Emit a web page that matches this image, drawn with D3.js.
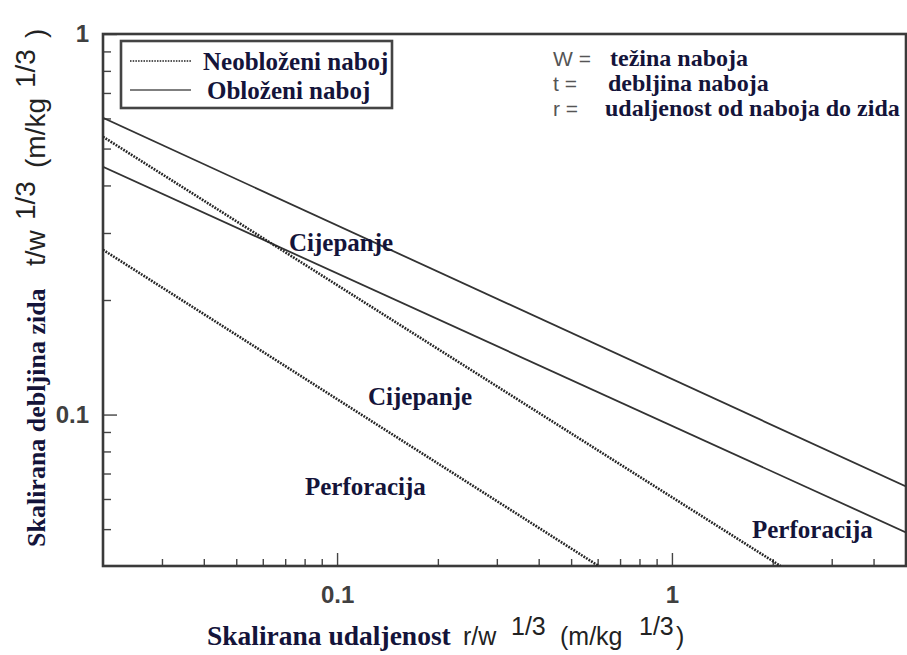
<!DOCTYPE html>
<html>
<head>
<meta charset="utf-8">
<script src="https://cdn.jsdelivr.net/npm/d3@7"></script>
<style>
  html, body { margin: 0; padding: 0; background: #fff; }
  svg { display: block; }
  .serif { font-family: "Liberation Serif", "Times New Roman", serif; font-weight: bold; fill: #14143a; }
  .sans { font-family: "Liberation Sans", Arial, sans-serif; }
</style>
</head>
<body>
<svg id="chart" width="907" height="655"></svg>
<script>
// ---------------- DATA ----------------
// Solid lines: obloženi naboj
const oblozeniCijepanjeX = [0.02, 5];
const oblozeniCijepanjeY = [0.602, 0.0647];
const oblozeniPerforacijaX = [0.02, 5];
const oblozeniPerforacijaY = [0.448, 0.049];
// Dotted lines: neobloženi naboj
const neoblozeniCijepanjeX = [0.02, 2.11];
const neoblozeniCijepanjeY = [0.537, 0.04];
const neoblozeniPerforacijaX = [0.02, 0.604];
const neoblozeniPerforacijaY = [0.271, 0.04];

const xDomain = [0.02, 5];
const yDomain = [0.04, 1];
const xMajorTicks = [0.1, 1];
const xTickLabels = ["0.1", "1"];
const yMajorTicks = [0.1, 1];
const yTickLabels = ["0.1", "1"];
const xMinorTicks = [0.03, 0.04, 0.05, 0.06, 0.07, 0.08, 0.09, 0.2, 0.3, 0.4, 0.5, 0.6, 0.7, 0.8, 0.9, 2, 3, 4];
const yMinorTicks = [0.05, 0.06, 0.07, 0.08, 0.09, 0.2, 0.3, 0.4, 0.5, 0.6, 0.7, 0.8, 0.9];

const legendLabels = ["Neobloženi naboj", "Obloženi naboj"];
const noteSymbols = ["W =", "t =", "r ="];
const noteTexts = ["težina naboja", "debljina naboja", "udaljenost od naboja do zida"];
const regionLabels = ["Cijepanje", "Perforacija", "Cijepanje", "Perforacija"];

// ---------------- LAYOUT ----------------
const svg = d3.select("#chart");
const plot = { left: 103, right: 906, top: 34, bottom: 566 };

const x = d3.scaleLog().domain(xDomain).range([plot.left, plot.right]);
const y = d3.scaleLog().domain(yDomain).range([plot.bottom, plot.top]);

svg.append("defs").append("clipPath").attr("id", "clip")
  .append("rect").attr("x", plot.left).attr("y", plot.top)
  .attr("width", plot.right - plot.left).attr("height", plot.bottom - plot.top);

// ---------------- AXES (ticks pointing inward) ----------------
const tickColor = "#444";
function styleAxis(g) {
  g.select(".domain").remove();
  g.selectAll(".tick line").attr("stroke", tickColor).attr("stroke-width", 1.4);
  g.selectAll(".tick text")
    .attr("font-family", "'Liberation Sans', Arial, sans-serif")
    .attr("font-weight", "bold").attr("font-size", 24).attr("fill", "#404040");
}

svg.append("g").attr("transform", `translate(0,${plot.bottom})`)
  .call(d3.axisBottom(x).tickValues(xMinorTicks).tickSize(-7).tickFormat(""))
  .call(styleAxis);
svg.append("g").attr("transform", `translate(0,${plot.bottom})`)
  .call(d3.axisBottom(x).tickValues(xMajorTicks).tickSize(-13).tickPadding(20)
        .tickFormat((d, i) => xTickLabels[i]))
  .call(styleAxis);

svg.append("g").attr("transform", `translate(${plot.left},0)`)
  .call(d3.axisLeft(y).tickValues(yMinorTicks).tickSize(-8).tickFormat(""))
  .call(styleAxis);
svg.append("g").attr("transform", `translate(${plot.left},0)`)
  .call(d3.axisLeft(y).tickValues(yMajorTicks).tickSize(-14).tickPadding(14)
        .tickFormat((d, i) => yTickLabels[i]))
  .call(styleAxis);

// frame
svg.append("rect")
  .attr("x", plot.left).attr("y", plot.top)
  .attr("width", plot.right - plot.left).attr("height", plot.bottom - plot.top)
  .attr("fill", "none").attr("stroke", "#3a3a3a").attr("stroke-width", 2.6);

// ---------------- LINES ----------------
const line = d3.line().x(d => x(d[0])).y(d => y(d[1]));
const series = [
  { xs: oblozeniCijepanjeX, ys: oblozeniCijepanjeY, dotted: false },
  { xs: oblozeniPerforacijaX, ys: oblozeniPerforacijaY, dotted: false },
  { xs: neoblozeniCijepanjeX, ys: neoblozeniCijepanjeY, dotted: true },
  { xs: neoblozeniPerforacijaX, ys: neoblozeniPerforacijaY, dotted: true }
];
const lg = svg.append("g").attr("clip-path", "url(#clip)");
series.forEach(s => {
  lg.append("path")
    .datum(s.xs.map((v, i) => [v, s.ys[i]]))
    .attr("d", line)
    .attr("fill", "none")
    .attr("stroke", s.dotted ? "#262626" : "#333")
    .attr("stroke-width", s.dotted ? 2.6 : 1.8)
    .attr("stroke-dasharray", s.dotted ? "1.8,1.2" : null);
});

// ---------------- LEGEND ----------------
const leg = svg.append("g");
leg.append("rect").attr("x", 121).attr("y", 41).attr("width", 271).attr("height", 67)
  .attr("fill", "#fff").attr("stroke", "#444").attr("stroke-width", 2.6);
leg.append("line").attr("x1", 130).attr("x2", 191).attr("y1", 61).attr("y2", 61)
  .attr("stroke", "#555").attr("stroke-width", 1.8).attr("stroke-dasharray", "1.5,1.2");
leg.append("line").attr("x1", 130).attr("x2", 191).attr("y1", 90).attr("y2", 90)
  .attr("stroke", "#555").attr("stroke-width", 1.4);
leg.append("text").attr("class", "serif").attr("x", 203).attr("y", 70)
  .attr("font-size", 25).text(legendLabels[0]);
leg.append("text").attr("class", "serif").attr("x", 207).attr("y", 99)
  .attr("font-size", 25).text(legendLabels[1]);

// ---------------- NOTES (top right) ----------------
const noteY = [66, 91, 116];
const noteX = [610, 608, 605];
noteSymbols.forEach((s, i) => {
  svg.append("text").attr("class", "sans").attr("x", 553).attr("y", noteY[i])
    .attr("font-size", 21).attr("fill", "#555").text(s);
  svg.append("text").attr("class", "serif").attr("x", noteX[i]).attr("y", noteY[i])
    .attr("font-size", 24).text(noteTexts[i]);
});

// ---------------- REGION LABELS ----------------
const regionPos = [[289, 251], [305, 495], [368, 405], [752, 538]];
regionLabels.forEach((t, i) => {
  svg.append("text").attr("class", "serif")
    .attr("x", regionPos[i][0]).attr("y", regionPos[i][1])
    .attr("font-size", 25).text(t);
});

// ---------------- AXIS TITLES ----------------
const sansAttrs = (sel, fs) => sel.attr("font-family", "'Liberation Sans', Arial, sans-serif")
  .attr("font-size", fs).attr("fill", "#222");

const xt = svg.append("text").attr("y", 645);
xt.append("tspan").attr("class", "serif").attr("x", 207).attr("font-size", 27.5).text("Skalirana udaljenost");
xt.append("tspan").call(sansAttrs, 25).attr("x", 463).text("r/w");
xt.append("tspan").call(sansAttrs, 25).attr("x", 511).attr("dy", -10).text("1/3");
xt.append("tspan").call(sansAttrs, 25).attr("x", 560).attr("dy", 10).text("(m/kg");
xt.append("tspan").call(sansAttrs, 25).attr("x", 639).attr("dy", -10).text("1/3");
xt.append("tspan").call(sansAttrs, 25).attr("x", 676).attr("dy", 10).text(")");

// rotated: tspan x = 547 - screenY
const yt = svg.append("text").attr("transform", "translate(45,547) rotate(-90)");
yt.append("tspan").attr("class", "serif").attr("x", 0).attr("font-size", 26).text("Skalirana debljina zida");
yt.append("tspan").call(sansAttrs, 28).attr("x", 547 - 266).text("t/w");
yt.append("tspan").call(sansAttrs, 28).attr("x", 547 - 220).attr("dy", -10).text("1/3");
yt.append("tspan").call(sansAttrs, 28).attr("x", 547 - 168).attr("dy", 10).text("(m/kg");
yt.append("tspan").call(sansAttrs, 28).attr("x", 547 - 88).attr("dy", -10).text("1/3");
yt.append("tspan").call(sansAttrs, 28).attr("x", 547 - 38).attr("dy", 10).text(")");
</script>
</body>
</html>
